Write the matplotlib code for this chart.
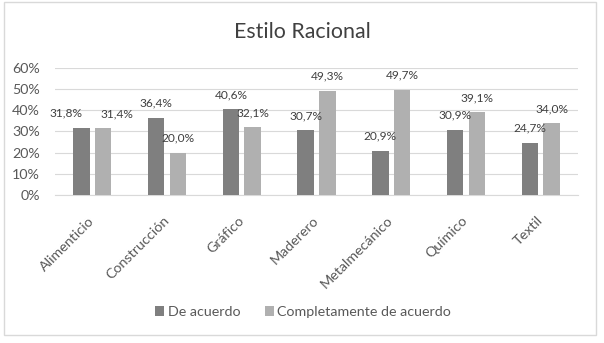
import numpy as np
import matplotlib.pyplot as plt
from matplotlib.patches import Rectangle
from matplotlib.transforms import ScaledTranslation

plt.rcParams['font.family'] = ['Lato', 'DejaVu Sans']

sectores = ['Alimenticio', 'Construcción', 'Gráfico', 'Maderero',
            'Metalmecánico', 'Químico', 'Textil']
de_acuerdo = [31.8, 36.4, 40.6, 30.7, 20.9, 30.9, 24.7]
completamente = [31.4, 20.0, 32.1, 49.3, 49.7, 39.1, 34.0]

dark = '#7f7f7f'
light = '#b0b0b0'
grid_col = '#d9d9d9'
text_col = '#595959'

fig = plt.figure(figsize=(6.04, 3.43), dpi=100)
ax = fig.add_axes([0.091, 0.4315, 0.866, 0.3705])

x = np.arange(len(sectores))
w = 0.22
off = 0.145
b1 = ax.bar(x - off, np.array(de_acuerdo) / 100, w, color=dark, label='De acuerdo', zorder=3)
b2 = ax.bar(x + off, np.array(completamente) / 100, w, color=light,
            label='Completamente de acuerdo', zorder=3)

# labels above each bar; the first group is spread apart so they don't touch
for i, (r1, r2) in enumerate(zip(b1, b2)):
    dx1, dx2 = (-11, 10) if i == 0 else (0, 0)
    for r, v, dx in ((r1, de_acuerdo[i], dx1), (r2, completamente[i], dx2)):
        ax.annotate(f'{v:.1f}%'.replace('.', ','),
                    (r.get_x() + r.get_width() / 2, r.get_height()),
                    xytext=(dx, 6.5), textcoords='offset points',
                    ha='center', va='bottom', fontsize=8.6, color='#404040')

ax.set_xlim(-0.5, len(sectores) - 0.5)
ax.set_ylim(0, 0.6)
ax.set_yticks(np.arange(0, 0.61, 0.1))
ax.set_yticklabels([f'{int(round(t * 100))}%' for t in np.arange(0, 0.61, 0.1)])
ax.set_xticks(x)
ax.set_xticklabels(sectores, rotation=45, ha='right', va='center', rotation_mode='anchor')
shift = ScaledTranslation(3 / 100, 0, fig.dpi_scale_trans)
for lbl in ax.get_xticklabels():
    lbl.set_transform(lbl.get_transform() + shift)
ax.tick_params(length=0, labelsize=10.3, labelcolor=text_col)
ax.tick_params(axis='x', pad=17)
ax.tick_params(axis='y', pad=11)
ax.grid(axis='y', color=grid_col, lw=0.8, zorder=0)
for s in ['top', 'right', 'left']:
    ax.spines[s].set_visible(False)
ax.spines['bottom'].set_color(grid_col)

fig.suptitle('Estilo Racional', y=0.935, fontsize=15.4, color='#404040')
fig.legend(loc='center', bbox_to_anchor=(0.502, 0.09), ncol=2, frameon=False,
           fontsize=10.3, labelcolor=text_col, handlelength=0.63, handleheight=0.63,
           handletextpad=0.25, columnspacing=1.7)

fig.patches.append(Rectangle((4 / 604, 8 / 343), 592 / 604, 333 / 343, transform=fig.transFigure,
                             fill=False, edgecolor=grid_col, lw=1))

fig.savefig('out.png', dpi=100)
